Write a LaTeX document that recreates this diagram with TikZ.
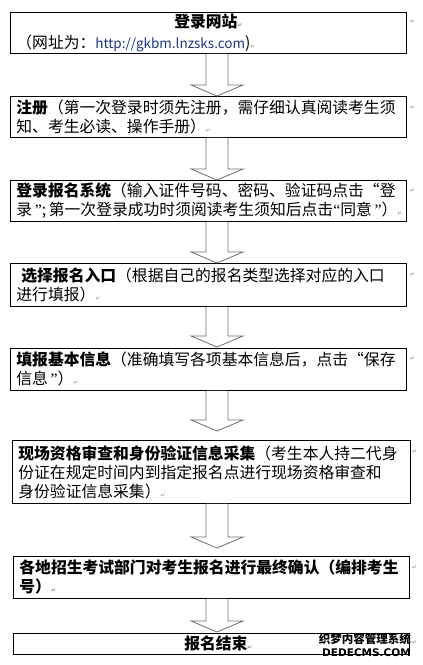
\documentclass[tikz,border=0pt]{standalone}
\usepackage{fontspec}
\newfontfamily\cjk{Noto Sans CJK SC}
\newfontfamily\symf{DejaVu Sans}
\newfontfamily\lat{Liberation Serif}
\usetikzlibrary{calc}
\definecolor{urlblue}{RGB}{30,55,130}
\definecolor{arrowgray}{RGB}{110,110,110}
\newcommand{\pmark}{{\symf\fontsize{6}{6}\selectfont\textcolor{black!45}{↵}}}
\newcommand{\myLq}{{\lat “}}
\newcommand{\myRq}{{\lat ”}}
\newcommand{\blockarrow}[3]{%
  \draw[barrow] let \p1=(#1.south), \p2=(#2.north) in
    (206pt,\y1) -- (206pt,\y2+#3pt+11pt) -- (191pt,\y2+#3pt+11pt) -- (217pt,\y2+#3pt)
    -- (243pt,\y2+#3pt+11pt) -- (228pt,\y2+#3pt+11pt) -- (228pt,\y1);}
\begin{document}
\begin{tikzpicture}[x=1pt,y=-1pt,
  box/.style={draw=black, line width=0.8pt, anchor=north west, inner xsep=6pt, inner ysep=0pt,
    align=left, font=\cjk\fontsize{15.8}{19}\selectfont},
  barrow/.style={draw=arrowgray, line width=0.8pt, fill=white},
  pm/.style={inner sep=0pt, anchor=west}]
\useasboundingbox (0,0) rectangle (423,665);
\fill[white] (0,0) rectangle (423,665);

\node[box, text width=384, minimum height=41] (b1) at (10,12)
  {\makebox[\linewidth][c]{\bfseries 登录网站\pmark}\\[2pt]
   （网址为：{\fontsize{13.5}{19}\selectfont\color{urlblue}http://gkbm.lnzsks.com})\pmark};
\node[box, text width=384, minimum height=41] (b2) at (10,96)
  {{\bfseries 注册}（第一次登录时须先注册，需仔细认真阅读考生须\\
   知、考生必读、操作手册）\pmark};
\node[box, text width=384, minimum height=41] (b3) at (10,180)
  {{\bfseries 登录报名系统}（输入证件号码、密码、验证码点击“登\\
   录\,\myRq;\,第一次登录成功时须阅读考生须知后点击\myLq 同意\,\myRq）\pmark};
\node[box, text width=384, minimum height=43] (b4) at (10,263)
  {\hspace{5pt}{\bfseries 选择报名入口}（根据自己的报名类型选择对应的入口\\
   进行填报）\pmark};
\node[box, text width=384, minimum height=42] (b5) at (10,348)
  {{\bfseries 填报基本信息}（准确填写各项基本信息后，点击“保存\\
   信息\,\myRq）\pmark};
\node[box, text width=386, minimum height=63] (b6) at (12,440)
  {{\bfseries 现场资格审查和身份验证信息采集}（考生本人持二代身\\
   份证在规定时间内到指定报名点进行现场资格审查和\\
   身份验证信息采集）\pmark};
\node[box, text width=384, minimum height=42] (b7) at (13,556)
  {\bfseries 各地招生考试部门对考生报名进行最终确认（编排考生\\
   号）\pmark};
\node[box, text width=384, minimum height=21] (b8) at (13,633)
  {\makebox[\linewidth][c]{\hspace{14pt}\bfseries 报名结束\pmark}};

\blockarrow{b1}{b2}{0}
\blockarrow{b2}{b3}{0}
\blockarrow{b3}{b4}{0}
\blockarrow{b4}{b5}{1}
\blockarrow{b5}{b6}{9}
\blockarrow{b6}{b7}{8}
\blockarrow{b7}{b8}{1}

\node[pm] (m1) at (410,22) {\pmark};
\node[pm] (m2) at (410,108) {\pmark};
\node[pm] (m3) at (410,191) {\pmark};
\node[pm] (m4) at (410,275) {\pmark};
\node[pm] (m5) at (410,359) {\pmark};
\node[pm] (m6) at (412,452) {\pmark};
\node[pm] (m7) at (412,568) {\pmark};
\node[pm] (m8) at (412,643) {\pmark};

\node[anchor=north east, inner sep=0pt, font=\cjk\bfseries\fontsize{11.5}{11.5}\selectfont] (wm1) at (411,633) {织梦内容管理系统};
\node[anchor=north east, inner sep=0pt, font=\symf\bfseries\fontsize{10.5}{10.5}\selectfont] (wm2) at (411,648) {DEDECMS.COM};
\end{tikzpicture}
\end{document}
